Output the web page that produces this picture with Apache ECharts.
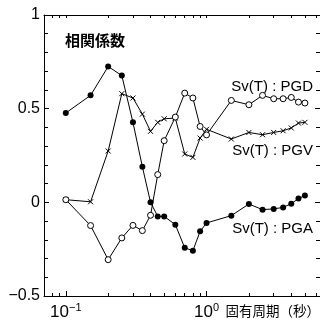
<!DOCTYPE html>
<html>
<head>
<meta charset="utf-8">
<script src="https://cdn.jsdelivr.net/npm/echarts@6/dist/echarts.min.js"></script>
<style>
  html, body { margin: 0; padding: 0; background: #fff; }
  #myChart { width: 320px; height: 321px; }
</style>
</head>
<body>
<div id="myChart"></div>
<script>
// 固有周期（秒）
const periods = [0.1, 0.15, 0.2, 0.25, 0.3, 0.35, 0.4, 0.45, 0.5, 0.6, 0.7, 0.8, 0.9, 1.0, 1.5, 2.0, 2.5, 3.0, 3.5, 4.0, 4.5, 5.0]
// 相関係数
const pga = [0.477, 0.571, 0.725, 0.677, 0.427, 0.19, 0.0, -0.075, -0.075, -0.119, -0.243, -0.258, -0.155, -0.11, -0.071, -0.009, -0.039, -0.035, -0.027, -0.007, 0.02, 0.036]
const pgv = [0.014, 0.003, 0.274, 0.58, 0.557, 0.471, 0.379, 0.427, 0.446, 0.45, 0.258, 0.24, 0.343, 0.39, 0.338, 0.373, 0.361, 0.373, 0.382, 0.397, 0.423, 0.427]
const pgd = [0.014, -0.124, -0.306, -0.19, -0.123, -0.151, -0.069, 0.148, 0.329, 0.455, 0.583, 0.557, 0.405, 0.36, 0.544, 0.521, 0.571, 0.553, 0.553, 0.56, 0.535, 0.53]
const majorTicks = [0.1, 1]
const minorTicks = [0.07, 0.08, 0.09, 0.2, 0.3, 0.4, 0.5, 0.6, 0.7, 0.8, 0.9, 2, 3, 4, 5, 6]
const seriesNames = ['Sv(T) : PGA', 'Sv(T) : PGV', 'Sv(T) : PGD']

const font = '"Liberation Sans", Arial, sans-serif'
const jpFont = '"Noto Sans CJK JP", sans-serif'

function pairs (vals) {
  return periods.map((p, i) => [p, vals[i]])
}

function logAxis (pos, ticks, len, showLine, showLabel) {
  return {
    type: 'log',
    logBase: 10,
    min: 0.07,
    max: 6.4,
    position: pos,
    axisLine: { show: showLine, onZero: false, lineStyle: { color: '#000', width: 1 } },
    axisTick: { show: true, inside: true, length: len, customValues: ticks, lineStyle: { color: '#000' } },
    axisLabel: {
      show: showLabel,
      customValues: majorTicks,
      margin: 6,
      formatter: v => v < 0.5 ? '{b|10}{s|−1}' : '{b|10}{s|0}',
      rich: {
        b: { fontSize: 17, fontFamily: font, color: '#000' },
        s: { fontSize: 11, fontFamily: font, color: '#000', padding: [0, 0, 10, 0] }
      }
    },
    splitLine: { show: false }
  }
}

function valAxis (pos, showLabel) {
  return {
    type: 'value',
    min: -0.5,
    max: 1,
    interval: 0.5,
    position: pos,
    axisLine: { show: true, onZero: false, lineStyle: { color: '#000', width: 1 } },
    axisTick: { show: true, inside: true, length: 5, lineStyle: { color: '#000' } },
    minorTick: { show: true, splitNumber: 5, length: 4, lineStyle: { color: '#000' } },
    axisLabel: {
      show: showLabel,
      margin: 4,
      fontSize: 16,
      fontFamily: font,
      color: '#000',
      formatter: v => (v < 0 ? '−' + Math.abs(v) : String(v))
    },
    splitLine: { show: false }
  }
}

const option = {
  animation: false,
  grid: { left: 44, top: 15, right: 0, bottom: 24.5 },
  xAxis: [
    logAxis('bottom', majorTicks, 5, true, true),
    logAxis('bottom', minorTicks, 3, false, false),
    logAxis('top', majorTicks.concat(minorTicks), 3, true, false)
  ],
  yAxis: [valAxis('left', true), valAxis('right', false)],
  graphic: [
    { type: 'text', left: 65, top: 33, style: { text: '相関係数', font: 'bold 15px ' + jpFont, fill: '#000' } },
    { type: 'text', right: 7, top: 79, style: { text: seriesNames[2], font: '15px ' + font, fill: '#000' } },
    { type: 'text', right: 7, top: 143, style: { text: seriesNames[1], font: '15px ' + font, fill: '#000' } },
    { type: 'text', right: 7, top: 221, style: { text: seriesNames[0], font: '15px ' + font, fill: '#000' } },
    { type: 'text', right: 0, top: 304, style: { text: '固有周期（秒）', font: '13.5px ' + jpFont, fill: '#000' } }
  ],
  series: [
    {
      name: seriesNames[0],
      type: 'line',
      data: pairs(pga),
      symbol: 'circle',
      symbolSize: 6,
      lineStyle: { color: '#000', width: 1 },
      itemStyle: { color: '#000' }
    },
    {
      name: seriesNames[1],
      type: 'line',
      data: pairs(pgv),
      symbol: 'path://M0,0L10,10M10,0L0,10',
      symbolSize: 5,
      lineStyle: { color: '#000', width: 1 },
      itemStyle: { color: '#000', borderColor: '#000', borderWidth: 1 }
    },
    {
      name: seriesNames[2],
      type: 'line',
      data: pairs(pgd),
      symbol: 'circle',
      symbolSize: 6,
      lineStyle: { color: '#000', width: 1 },
      itemStyle: { color: '#fff', borderColor: '#000', borderWidth: 1 }
    }
  ]
}

let myChart = echarts.init(document.getElementById('myChart'))
myChart.setOption(option)
</script>
</body>
</html>
